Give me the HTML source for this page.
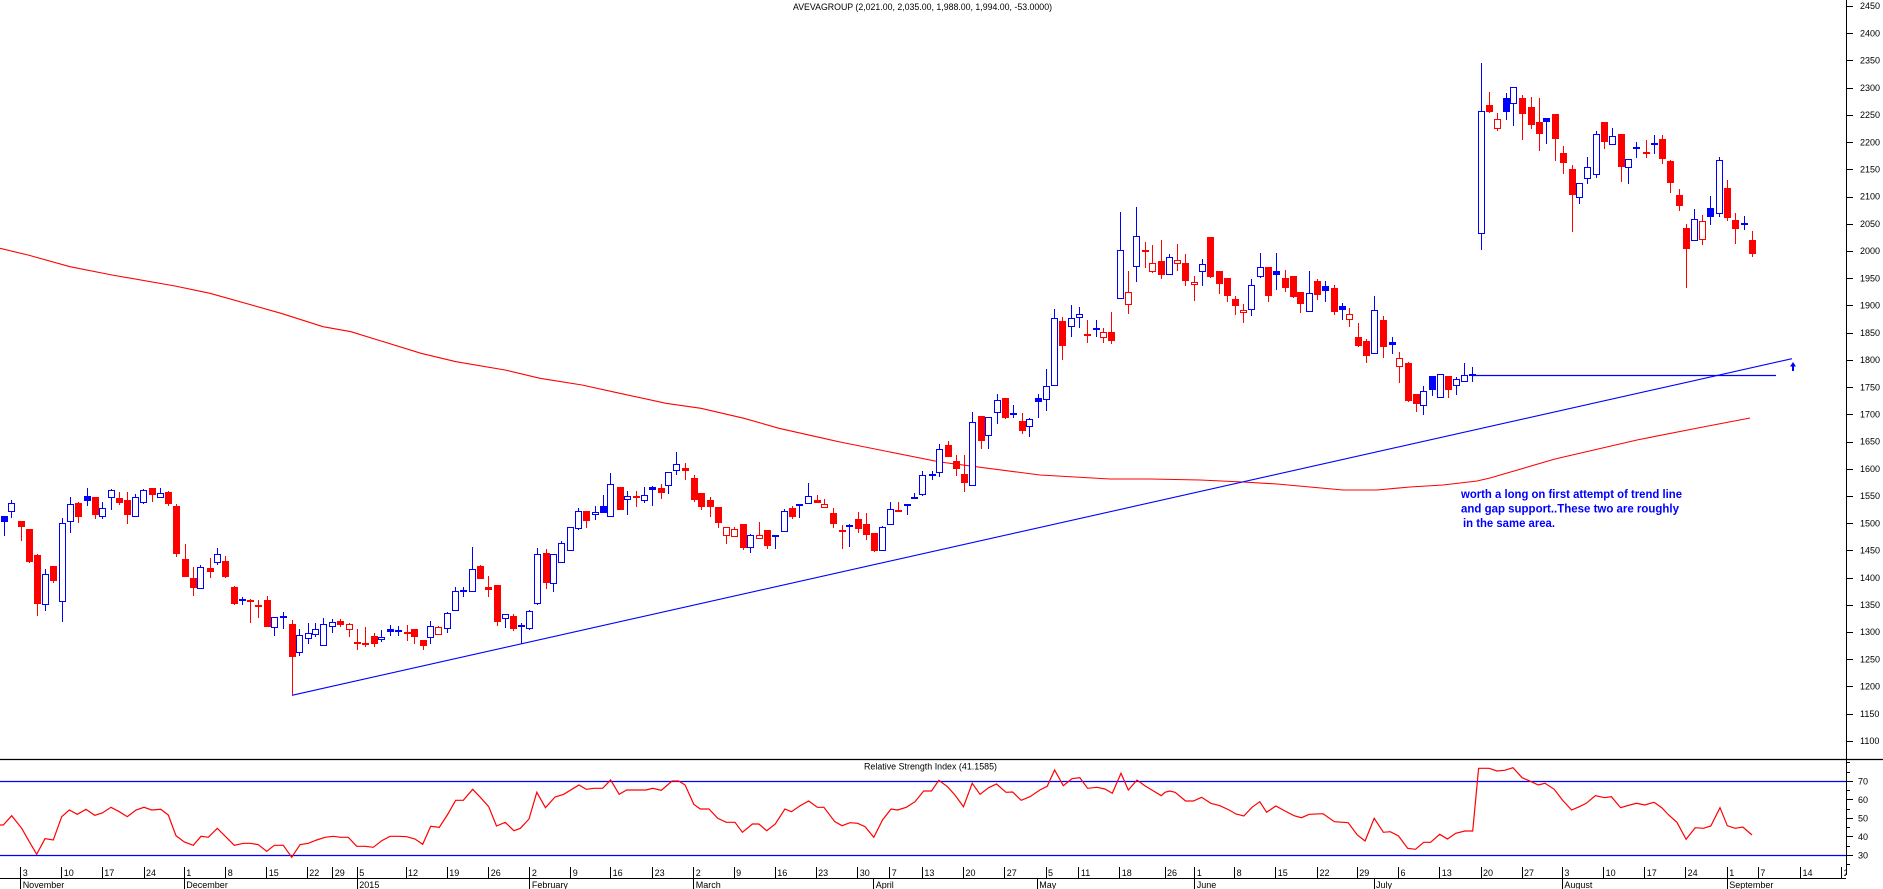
<!DOCTYPE html>
<html><head><meta charset="utf-8"><style>
html,body{margin:0;padding:0;background:#fff;}
svg{display:block;font-family:"Liberation Sans",sans-serif;}
</style></head><body>
<svg width="1883" height="889" viewBox="0 0 1883 889" xmlns="http://www.w3.org/2000/svg">
<defs>
<pattern id="mt" patternUnits="userSpaceOnUse" x="0" y="0.56" width="10" height="5.444"><rect x="0" y="0" width="3" height="1" fill="#000"/></pattern>
<clipPath id="cl"><rect x="0" y="0" width="1846" height="889"/></clipPath>
</defs>
<rect width="1883" height="889" fill="#fff"/>

<!-- title -->
<text x="793" y="10" font-size="9" textLength="259" lengthAdjust="spacingAndGlyphs" fill="#000">AVEVAGROUP (2,021.00, 2,035.00, 1,988.00, 1,994.00, -53.0000)</text>

<!-- 200 MA -->
<polyline fill="none" stroke="#f00" stroke-width="1.1" points="0,248.3 28,255 70,266.7 112,275 175,286 210,293.3 281,313.3 323,326.7 351,331.7 421,353.3 456,361.7 505,370 540,378.3 582,385 617,392.7 666,403.3 701,408.3 744,418.3 779,428.3 828,439.3 840,442 940,462 1040,475 1110,479 1150,479 1200,480 1243,482 1277,484 1310,487 1343,490 1377,490 1410,487 1443,485 1477,481 1490,478 1555,459 1637,440 1703,427 1750,418"/>

<!-- trend line & horizontal -->
<line x1="292" y1="695.3" x2="1792" y2="358.7" stroke="#00f" stroke-width="1.1"/>
<line x1="1472" y1="375.5" x2="1776" y2="375.5" stroke="#00f" stroke-width="1.2"/>
<polygon points="1793,362 1790,366.5 1796,366.5" fill="#00f"/>
<rect x="1792" y="365" width="2" height="6" fill="#00f"/>

<!-- blue wicks -->
<path fill="none" stroke="#00f" stroke-width="1" d="M4.5 516V536M11.5 500V518M45.5 569V611M62.5 518V622M70.5 497V533M87.5 488V506M102.5 502V519M111.5 489V510M135.5 494V517M143.5 489V504M160.5 488V498M200.5 565V589M217.5 548V565M242.5 597V605M274.5 617V636M283.5 612V629M299.5 629V656M308.5 623V644M315.5 623V637M323.5 618V646M332.5 619V633M381.5 630V642M390.5 625V636M398.5 626V636M430.5 621V644M447.5 612V633M455.5 587V611M463.5 587V597M472.5 547V592M505.5 614V628M521.5 623V644M529.5 610V630M537.5 548V605M553.5 554V592M561.5 541V563M570.5 527V551M578.5 508V530M595.5 506V520M603.5 495V513M610.5 473V517M627.5 491V515M644.5 487V503M652.5 486V506M668.5 472V494M676.5 452V475M750.5 534V553M775.5 535V549M784.5 509V532M799.5 504V518M808.5 483V504M849.5 524V547M882.5 526V551M890.5 502V525M907.5 504V515M914.5 493V499M922.5 471V496M932.5 471V480M939.5 444V477M972.5 412V486M988.5 417V449M997.5 394V424M1013.5 405V418M1029.5 418V437M1038.5 394V418M1046.5 369V411M1054.5 309V386M1071.5 305V337M1079.5 307V328M1096.5 320V337M1120.5 212V299M1136.5 207V282M1169.5 254V275M1202.5 259V286M1251.5 279V316M1260.5 253V278M1276.5 253V290M1309.5 271V312M1325.5 281V302M1342.5 303V320M1374.5 296V354M1392.5 337V354M1423.5 386V415M1432.5 376V396M1440.5 374V398M1456.5 377V395M1464.5 363V382M1472.5 367V382M1481.5 63V250M1506.5 93V120M1513.5 87V126M1546.5 118V144M1579.5 183V204M1587.5 157V184M1596.5 131V178M1612.5 128V145M1628.5 159V184M1636.5 142V158M1654.5 135V154M1694.5 209V241M1710.5 196V225M1719.5 157V217M1744.5 216V230"/>

<!-- red wicks -->
<path fill="none" stroke="#f00" stroke-width="1" d="M21.5 521V541M29.5 529V563M37.5 554V616M53.5 566V583M78.5 502V523M95.5 497V519M119.5 492V505M127.5 492V524M152.5 488V502M168.5 491V506M176.5 504V557M185.5 544V577M193.5 567V596M210.5 558V578M225.5 556V578M234.5 586V605M250.5 599V623M258.5 600V618M267.5 596V627M292.5 620V695M340.5 619V627M349.5 623V637M357.5 629V650M365.5 627V647M374.5 633V647M407.5 625V641M414.5 629V644M423.5 640V650M438.5 626V635M480.5 565V579M488.5 576V597M497.5 585V626M513.5 614V631M546.5 549V589M586.5 511V528M620.5 487V510M636.5 491V507M661.5 484V499M685.5 463V480M694.5 475V502M701.5 493V510M710.5 497V517M718.5 507V528M726.5 527V544M734.5 527V537M743.5 524V550M759.5 522V539M767.5 530V549M792.5 506V519M817.5 495V503M824.5 499V508M833.5 508V528M842.5 525V549M858.5 512V533M866.5 513V540M874.5 533V552M898.5 502V511M948.5 441V457M956.5 455V476M964.5 455V492M981.5 416V449M1005.5 398V419M1022.5 413V434M1062.5 317V360M1087.5 320V343M1103.5 328V343M1111.5 312V344M1128.5 271V314M1145.5 242V268M1152.5 245V273M1161.5 240V279M1177.5 244V271M1185.5 254V286M1194.5 276V301M1210.5 237V278M1219.5 271V294M1227.5 278V302M1235.5 296V315M1243.5 304V323M1268.5 267V302M1285.5 270V292M1293.5 276V298M1300.5 292V313M1317.5 279V300M1334.5 285V315M1349.5 308V327M1358.5 323V347M1366.5 339V363M1383.5 316V358M1399.5 352V383M1408.5 362V402M1416.5 394V412M1448.5 376V398M1489.5 92V113M1497.5 113V131M1522.5 95V140M1531.5 97V129M1539.5 98V151M1555.5 114V161M1563.5 146V174M1572.5 165V232M1604.5 122V149M1621.5 134V182M1646.5 140V158M1662.5 135V164M1670.5 160V193M1679.5 189V211M1686.5 224V288M1702.5 215V245M1727.5 180V221M1735.5 213V244M1752.5 231V257"/>

<!-- blue filled bodies -->
<path fill="#00f" d="M1 516h7v6h-7zM84 496h7v5h-7zM239 599h7v2h-7zM280 616h7v2h-7zM387 629h7v3h-7zM395 630h7v2h-7zM460 590h7v2h-7zM600 506h7v7h-7zM649 487h7v3h-7zM772 535h7v2h-7zM904 504h7v2h-7zM929 474h7v2h-7zM1010 413h7v2h-7zM1035 398h7v4h-7zM1273 271h7v4h-7zM1322 286h7v5h-7zM1339 306h7v4h-7zM1389 342h7v3h-7zM1429 376h7v14h-7zM1469 374h7v2h-7zM1503 98h7v14h-7zM1543 118h7v4h-7zM1633 147h7v2h-7zM1651 143h7v2h-7zM1707 208h7v9h-7zM1741 223h7v2h-7z"/>

<!-- red filled bodies -->
<path fill="#f00" d="M18 521h7v6h-7zM26 529h7v33h-7zM34 555h7v49h-7zM50 566h7v15h-7zM75 503h7v14h-7zM92 497h7v18h-7zM116 498h7v5h-7zM124 500h7v15h-7zM149 488h7v7h-7zM165 492h7v12h-7zM173 506h7v48h-7zM182 559h7v18h-7zM190 578h7v10h-7zM207 568h7v4h-7zM222 561h7v16h-7zM231 587h7v17h-7zM247 600h7v2h-7zM255 605h7v2h-7zM264 600h7v27h-7zM289 624h7v33h-7zM337 621h7v4h-7zM354 642h7v2h-7zM362 643h7v2h-7zM371 636h7v8h-7zM404 632h7v2h-7zM411 629h7v8h-7zM420 640h7v6h-7zM477 566h7v13h-7zM485 587h7v3h-7zM494 585h7v37h-7zM510 616h7v13h-7zM543 553h7v30h-7zM583 511h7v10h-7zM617 487h7v23h-7zM633 496h7v2h-7zM658 488h7v5h-7zM682 468h7v3h-7zM691 478h7v22h-7zM698 493h7v14h-7zM707 500h7v7h-7zM715 507h7v16h-7zM740 524h7v24h-7zM764 530h7v16h-7zM789 508h7v9h-7zM814 500h7v3h-7zM830 513h7v11h-7zM839 530h7v2h-7zM855 519h7v10h-7zM863 524h7v11h-7zM871 533h7v18h-7zM895 510h7v2h-7zM945 445h7v12h-7zM953 461h7v8h-7zM961 474h7v9h-7zM978 416h7v25h-7zM1002 398h7v20h-7zM1019 421h7v10h-7zM1059 321h7v25h-7zM1084 334h7v2h-7zM1108 332h7v9h-7zM1142 250h7v2h-7zM1158 261h7v14h-7zM1182 263h7v18h-7zM1207 237h7v40h-7zM1216 271h7v13h-7zM1224 278h7v18h-7zM1232 299h7v7h-7zM1265 267h7v29h-7zM1282 278h7v10h-7zM1290 276h7v21h-7zM1297 292h7v12h-7zM1314 281h7v14h-7zM1331 288h7v24h-7zM1355 337h7v9h-7zM1363 341h7v15h-7zM1380 320h7v27h-7zM1405 363h7v38h-7zM1413 394h7v10h-7zM1445 376h7v14h-7zM1486 105h7v7h-7zM1519 98h7v16h-7zM1528 107h7v18h-7zM1536 122h7v12h-7zM1552 114h7v25h-7zM1560 153h7v10h-7zM1569 169h7v26h-7zM1601 122h7v20h-7zM1618 134h7v33h-7zM1643 152h7v2h-7zM1659 139h7v20h-7zM1667 161h7v22h-7zM1676 195h7v11h-7zM1683 228h7v21h-7zM1724 188h7v30h-7zM1732 220h7v9h-7zM1749 240h7v14h-7z"/>

<!-- blue hollow bodies -->
<g fill="#fff" stroke="#00f" stroke-width="1">
<rect x="8.5" y="503.5" width="6" height="8"/><rect x="42.5" y="574.5" width="6" height="30"/><rect x="59.5" y="523.5" width="6" height="78"/><rect x="67.5" y="504.5" width="6" height="17"/><rect x="99.5" y="508.5" width="6" height="8"/><rect x="108.5" y="490.5" width="6" height="7"/><rect x="132.5" y="497.5" width="6" height="19"/><rect x="140.5" y="490.5" width="6" height="12"/><rect x="157.5" y="493.5" width="6" height="4"/><rect x="197.5" y="567.5" width="6" height="21"/><rect x="214.5" y="554.5" width="6" height="8"/><rect x="271.5" y="617.5" width="6" height="10"/><rect x="296.5" y="635.5" width="6" height="17"/><rect x="305.5" y="633.5" width="6" height="5"/><rect x="312.5" y="629.5" width="6" height="5"/><rect x="320.5" y="624.5" width="6" height="21"/><rect x="329.5" y="622.5" width="6" height="4"/><rect x="378.5" y="637.5" width="6" height="2"/><rect x="427.5" y="626.5" width="6" height="11"/><rect x="444.5" y="613.5" width="6" height="15"/><rect x="452.5" y="591.5" width="6" height="19"/><rect x="469.5" y="569.5" width="6" height="22"/><rect x="502.5" y="614.5" width="6" height="4"/><rect x="518.5" y="625.5" width="6" height="1"/><rect x="526.5" y="611.5" width="6" height="17"/><rect x="534.5" y="554.5" width="6" height="49"/><rect x="550.5" y="554.5" width="6" height="29"/><rect x="558.5" y="543.5" width="6" height="19"/><rect x="567.5" y="527.5" width="6" height="23"/><rect x="575.5" y="511.5" width="6" height="17"/><rect x="592.5" y="512.5" width="6" height="2"/><rect x="607.5" y="484.5" width="6" height="32"/><rect x="624.5" y="496.5" width="6" height="3"/><rect x="641.5" y="495.5" width="6" height="5"/><rect x="665.5" y="472.5" width="6" height="13"/><rect x="673.5" y="464.5" width="6" height="6"/><rect x="747.5" y="535.5" width="6" height="12"/><rect x="781.5" y="511.5" width="6" height="20"/><rect x="796.5" y="504.5" width="6" height="1"/><rect x="805.5" y="496.5" width="6" height="7"/><rect x="846.5" y="525.5" width="6" height="1"/><rect x="879.5" y="527.5" width="6" height="23"/><rect x="887.5" y="509.5" width="6" height="15"/><rect x="911.5" y="497.5" width="6" height="1"/><rect x="919.5" y="475.5" width="6" height="19"/><rect x="936.5" y="449.5" width="6" height="23"/><rect x="969.5" y="422.5" width="6" height="63"/><rect x="985.5" y="417.5" width="6" height="18"/><rect x="994.5" y="400.5" width="6" height="12"/><rect x="1026.5" y="419.5" width="6" height="7"/><rect x="1043.5" y="386.5" width="6" height="13"/><rect x="1051.5" y="318.5" width="6" height="67"/><rect x="1068.5" y="318.5" width="6" height="8"/><rect x="1076.5" y="314.5" width="6" height="3"/><rect x="1093.5" y="328.5" width="6" height="1"/><rect x="1117.5" y="250.5" width="6" height="48"/><rect x="1133.5" y="236.5" width="6" height="30"/><rect x="1166.5" y="257.5" width="6" height="17"/><rect x="1199.5" y="264.5" width="6" height="7"/><rect x="1248.5" y="285.5" width="6" height="24"/><rect x="1257.5" y="267.5" width="6" height="9"/><rect x="1306.5" y="293.5" width="6" height="18"/><rect x="1371.5" y="310.5" width="6" height="43"/><rect x="1420.5" y="391.5" width="6" height="14"/><rect x="1437.5" y="374.5" width="6" height="23"/><rect x="1453.5" y="379.5" width="6" height="6"/><rect x="1461.5" y="375.5" width="6" height="6"/><rect x="1478.5" y="111.5" width="6" height="122"/><rect x="1510.5" y="87.5" width="6" height="16"/><rect x="1576.5" y="183.5" width="6" height="14"/><rect x="1584.5" y="167.5" width="6" height="11"/><rect x="1593.5" y="134.5" width="6" height="40"/><rect x="1609.5" y="136.5" width="6" height="8"/><rect x="1625.5" y="159.5" width="6" height="8"/><rect x="1691.5" y="219.5" width="6" height="21"/><rect x="1716.5" y="160.5" width="6" height="53"/>
</g>

<!-- red hollow bodies -->
<g fill="#fff" stroke="#f00" stroke-width="1">
<rect x="346.5" y="624.5" width="6" height="5"/><rect x="435.5" y="627.5" width="6" height="7"/><rect x="723.5" y="527.5" width="6" height="8"/><rect x="731.5" y="529.5" width="6" height="7"/><rect x="756.5" y="535.5" width="6" height="3"/><rect x="821.5" y="504.5" width="6" height="3"/><rect x="1100.5" y="332.5" width="6" height="5"/><rect x="1125.5" y="292.5" width="6" height="12"/><rect x="1149.5" y="263.5" width="6" height="8"/><rect x="1174.5" y="260.5" width="6" height="3"/><rect x="1191.5" y="282.5" width="6" height="2"/><rect x="1240.5" y="310.5" width="6" height="2"/><rect x="1346.5" y="314.5" width="6" height="5"/><rect x="1396.5" y="358.5" width="6" height="8"/><rect x="1494.5" y="119.5" width="6" height="9"/><rect x="1699.5" y="221.5" width="6" height="18"/>
</g>

<!-- annotation -->
<g fill="#00f" font-weight="bold" font-size="11.5">
<text x="1461" y="498" textLength="221" lengthAdjust="spacingAndGlyphs">worth a long on first attempt of trend line</text>
<text x="1461" y="512.5" textLength="218" lengthAdjust="spacingAndGlyphs">and gap support..These two are roughly</text>
<text x="1463" y="527" textLength="92" lengthAdjust="spacingAndGlyphs">in the same area.</text>
</g>

<!-- panel separator -->
<line x1="0" y1="759.5" x2="1883" y2="759.5" stroke="#000" stroke-width="1.2"/>

<!-- RSI -->
<text x="864" y="769.5" font-size="9" textLength="133" lengthAdjust="spacingAndGlyphs" fill="#000">Relative Strength Index (41.1585)</text>
<line x1="0" y1="781.5" x2="1846" y2="781.5" stroke="#00f" stroke-width="1.2"/>
<line x1="0" y1="855.5" x2="1846" y2="855.5" stroke="#00f" stroke-width="1.2"/>
<polyline fill="none" stroke="#f00" stroke-width="1.2" points="0,825 3.3,825 11.7,815.7 21.7,828.3 29.3,841.7 36.7,854.3 45,838.7 53.3,840 61.7,816.7 69.3,810 77.3,814.3 86,809.3 94.7,815.3 102.3,813 111,807.3 119.3,811.7 127.3,816.7 136,810 144,807.3 151.7,810 160.7,809.3 168.3,815 176,835.7 184.3,842 193.3,845.3 201,836.3 208.3,837.3 217.3,828.3 225.7,836.7 234.3,845.3 243.3,843.3 250.7,843.3 258.3,844.7 266.7,851.3 274.3,845.3 283.3,845.3 291.7,857.3 300,844.7 308.3,843.3 316.7,840 325,837.3 333.3,836.3 340.7,837.3 348.3,837.3 356.7,846.3 365,846.3 373.3,847.3 381.7,840.7 390,836.3 398.3,836.3 406.7,836.7 415,839 422.7,844.3 430.7,826.3 439.3,827.3 447.3,815 455.7,800.3 463.3,800.3 472.7,789.3 480.7,797.7 488.7,806.7 496.5,826 505.2,822.3 513.9,830.7 520.4,828.3 529,819 536.8,792.3 545.5,807.7 555,797 563.7,794.3 578.9,785 586.3,789.3 594.1,788.3 602.7,788.3 610.6,780 619.2,794.3 626.6,790 646.1,790 652.6,788.3 661.3,790.3 672.1,781 678.6,781 685.1,785 693.8,804.3 700.3,809 709,809 717.7,818.3 726.3,822.3 735,822.3 742.4,832.3 752.4,824 758.9,824 766.7,830.7 775.3,824 784.9,809 791.4,811.7 800.1,805.7 808.7,801 817.4,807.3 823.9,807.3 834.8,821.7 842.1,825.7 849.9,822.7 857.7,823.3 865.1,826.7 873.8,837.3 882.5,820 891.1,809 897.6,810 906.3,807.3 915,801.7 923.7,791 931.5,791 938.8,780.3 947.5,786.7 954.9,795 963.5,806.7 972.2,783.3 980,794.3 988.7,787.7 996.5,784 1006,792.3 1012.6,792 1021.2,800.3 1029.9,796.7 1039.9,790 1047.2,786.3 1054.6,770 1063.3,785.7 1072,778.7 1079.8,777.7 1087.6,788.3 1097.1,787.3 1104.9,789 1112.3,793.3 1121,773.3 1128.3,790 1137,780 1144.8,785.7 1153.5,791 1161.3,795.7 1165,792.3 1169.6,791 1175.1,792.3 1185.6,801 1193.4,801 1201.6,797.3 1210.8,803.3 1219.9,805.7 1229.1,810 1236,814 1243.8,816 1252,807.3 1259.8,801.7 1266.6,812.3 1275.8,806 1285,811 1294.1,815.7 1301.4,817.7 1309.2,814.3 1323,813.7 1334.4,821.7 1348.2,822.7 1357.3,835 1365.1,841 1374.2,818.3 1383.4,832.3 1390.3,831.7 1398.5,836 1407.7,848.3 1415.5,849.3 1423.7,842.3 1430.6,842.3 1439.7,834.3 1447.5,839 1455.7,833.3 1464.9,831 1472.7,831 1478.6,768.3 1489.2,768.3 1497,771 1504.7,770.3 1513,767.7 1522.1,777.7 1531.3,781.7 1538.2,785 1545,783.3 1554.2,789.3 1562.4,800 1571.6,810 1579.4,806.7 1586.2,803.3 1595.4,795.7 1604.6,797.7 1611.4,796.7 1620.6,807.7 1629.7,805 1636.6,803.3 1644.8,805 1654,802.3 1661.8,807.7 1668.7,815 1676.9,822.3 1686.1,839.3 1695.2,827.7 1703.5,828.3 1710.8,826 1720,807.7 1727.3,825.7 1735.1,828.3 1742.8,827 1752,835"/>

<!-- right axis -->
<line x1="1846.5" y1="0" x2="1846.5" y2="875" stroke="#000" stroke-width="1"/>
<rect x="1847" y="0" width="3" height="759" fill="url(#mt)"/>
<path fill="none" stroke="#000" stroke-width="1" d="M1847 6.5h6M1847 33.5h6M1847 60.5h6M1847 88.5h6M1847 115.5h6M1847 142.5h6M1847 169.5h6M1847 197.5h6M1847 224.5h6M1847 251.5h6M1847 278.5h6M1847 305.5h6M1847 333.5h6M1847 360.5h6M1847 387.5h6M1847 414.5h6M1847 442.5h6M1847 469.5h6M1847 496.5h6M1847 523.5h6M1847 550.5h6M1847 578.5h6M1847 605.5h6M1847 632.5h6M1847 659.5h6M1847 686.5h6M1847 714.5h6M1847 741.5h6M1847 781.5h6M1847 799.5h6M1847 818.5h6M1847 836.5h6M1847 855.5h6M1847 762.5h3M1847 772.5h3M1847 790.5h3M1847 809.5h3M1847 827.5h3M1847 846.5h3M1847 864.5h3"/>
<g font-size="9" fill="#000">
<text x="1860" y="9.2">2450</text><text x="1860" y="36.4">2400</text><text x="1860" y="63.6">2350</text><text x="1860" y="90.9">2300</text><text x="1860" y="118.1">2250</text><text x="1860" y="145.3">2200</text><text x="1860" y="172.5">2150</text><text x="1860" y="199.7">2100</text><text x="1860" y="227">2050</text><text x="1860" y="254.2">2000</text><text x="1860" y="281.4">1950</text><text x="1860" y="308.6">1900</text><text x="1860" y="335.8">1850</text><text x="1860" y="363">1800</text><text x="1860" y="390.3">1750</text><text x="1860" y="417.5">1700</text><text x="1860" y="444.7">1650</text><text x="1860" y="471.9">1600</text><text x="1860" y="499.1">1550</text><text x="1860" y="526.4">1500</text><text x="1860" y="553.6">1450</text><text x="1860" y="580.8">1400</text><text x="1860" y="608">1350</text><text x="1860" y="635.2">1300</text><text x="1860" y="662.4">1250</text><text x="1860" y="689.7">1200</text><text x="1860" y="716.9">1150</text><text x="1860" y="744.1">1100</text>
<text x="1858" y="784.3">70</text><text x="1858" y="802.8">60</text><text x="1858" y="821.3">50</text><text x="1858" y="839.8">40</text><text x="1858" y="858.3">30</text>
</g>

<!-- date axis -->
<line x1="0" y1="878.5" x2="1846" y2="878.5" stroke="#000" stroke-width="1"/>
<g clip-path="url(#cl)">
<path fill="none" stroke="#000" stroke-width="1" d="M20.5 867V878M61.5 867V878M102.5 867V878M144.5 867V878M184.5 867V878M225.5 867V878M266.5 867V878M307.5 867V878M332.5 867V878M357.5 867V878M406.5 867V878M447.5 867V878M488.5 867V878M529.5 867V878M570.5 867V878M610.5 867V878M652.5 867V878M693.5 867V878M734.5 867V878M775.5 867V878M816.5 867V878M857.5 867V878M889.5 867V878M922.5 867V878M963.5 867V878M1004.5 867V878M1046.5 867V878M1078.5 867V878M1119.5 867V878M1165.5 867V878M1194.5 867V878M1234.5 867V878M1275.5 867V878M1317.5 867V878M1357.5 867V878M1398.5 867V878M1439.5 867V878M1481.5 867V878M1522.5 867V878M1562.5 867V878M1603.5 867V878M1644.5 867V878M1685.5 867V878M1727.5 867V878M1758.5 867V878M1800.5 867V878M1841.5 867V878M20.5 879V889M184.5 879V889M357.5 879V889M529.5 879V889M693.5 879V889M873.5 879V889M1037.5 879V889M1194.5 879V889M1374.5 879V889M1562.5 879V889M1727.5 879V889"/>
<g font-size="9" fill="#000">
<text x="22.7" y="876">3</text><text x="63.7" y="876">10</text><text x="104.3" y="876">17</text><text x="146" y="876">24</text><text x="186.3" y="876">1</text><text x="227.7" y="876">8</text><text x="268.7" y="876">15</text><text x="309.3" y="876">22</text><text x="334.7" y="876">29</text><text x="359.3" y="876">5</text><text x="408" y="876">12</text><text x="449.3" y="876">19</text><text x="490.7" y="876">26</text>
<text x="531.9" y="876">2</text><text x="572.7" y="876">9</text><text x="612.6" y="876">16</text><text x="654.6" y="876">23</text><text x="695.8" y="876">2</text><text x="736.1" y="876">9</text><text x="777.3" y="876">16</text><text x="818.1" y="876">23</text><text x="859.7" y="876">30</text><text x="891.8" y="876">7</text><text x="924.4" y="876">13</text><text x="965.5" y="876">20</text><text x="1006.7" y="876">27</text><text x="1048" y="876">5</text><text x="1080.9" y="876">11</text><text x="1121.7" y="876">18</text><text x="1167" y="876">26</text>
<text x="1196.8" y="876">1</text><text x="1236.6" y="876">8</text><text x="1277.8" y="876">15</text><text x="1319.5" y="876">22</text><text x="1359.3" y="876">29</text><text x="1400.5" y="876">6</text><text x="1441.7" y="876">13</text><text x="1483" y="876">20</text><text x="1524" y="876">27</text><text x="1564.4" y="876">3</text><text x="1605.6" y="876">10</text><text x="1646.8" y="876">17</text><text x="1687.6" y="876">24</text><text x="1729.3" y="876">1</text><text x="1760.4" y="876">7</text><text x="1802.5" y="876">14</text><text x="1843.7" y="876">21</text>
<text x="22.7" y="888">November</text><text x="186.3" y="888">December</text><text x="359.3" y="888">2015</text><text x="531.9" y="888">February</text><text x="695.8" y="888">March</text><text x="875.8" y="888">April</text><text x="1039.3" y="888">May</text><text x="1196.8" y="888">June</text><text x="1376" y="888">July</text><text x="1564.4" y="888">August</text><text x="1729.3" y="888">September</text>
</g>
</g>
</svg>
</body></html>
